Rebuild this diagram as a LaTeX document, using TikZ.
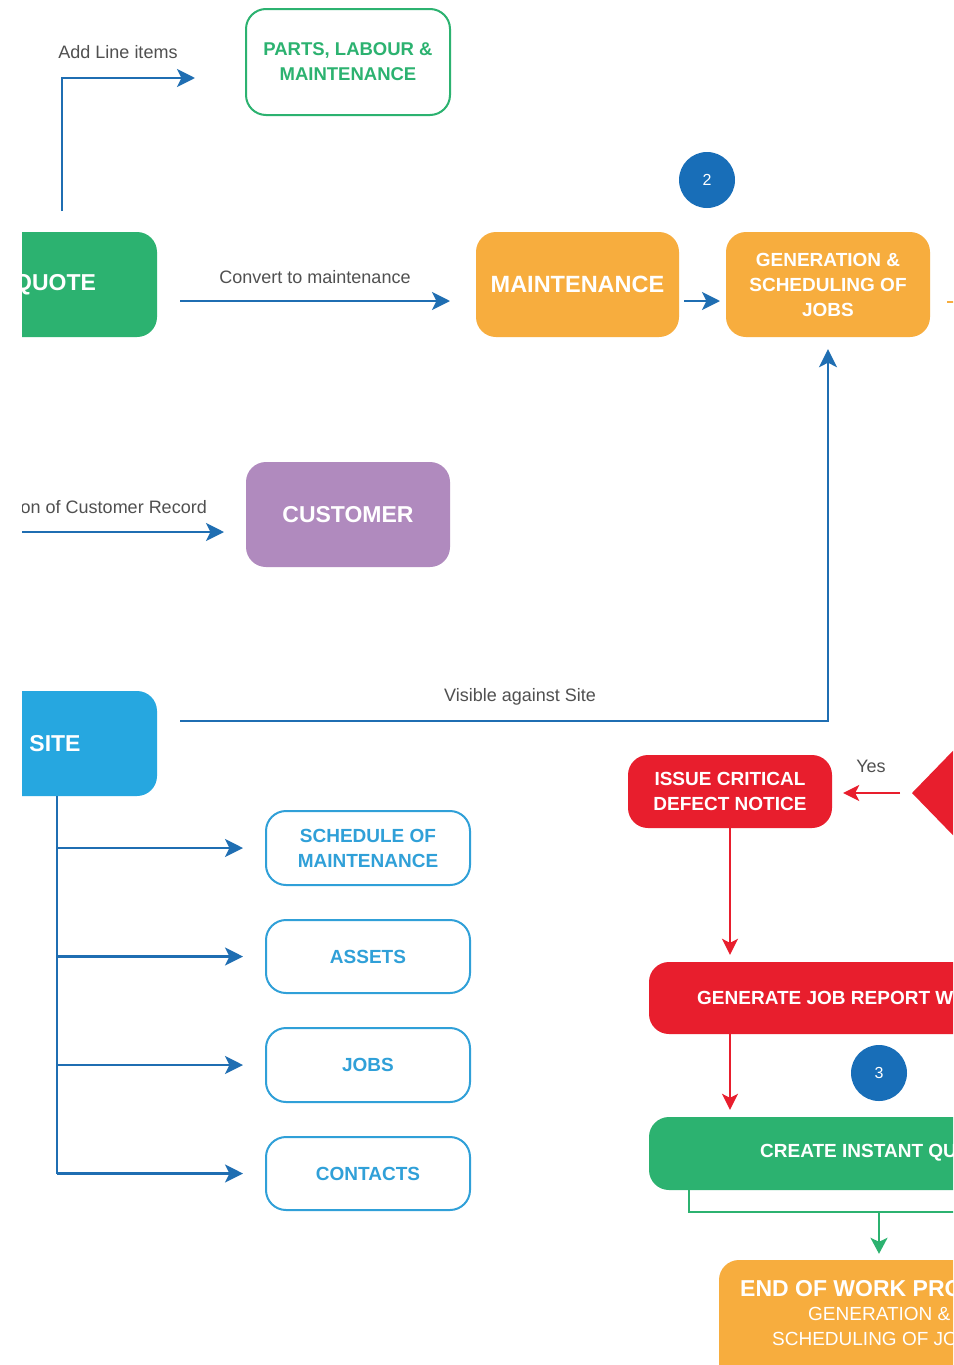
\documentclass[tikz,border=0pt]{standalone}
\usepackage{fontspec}
\setmainfont{Liberation Sans}
\usetikzlibrary{arrows.meta}
\definecolor{cgreen}{RGB}{44,178,112}
\definecolor{corange}{RGB}{247,173,62}
\definecolor{cblue}{RGB}{31,110,178}
\definecolor{cnum}{RGB}{24,110,184}
\definecolor{cpurple}{RGB}{176,138,190}
\definecolor{csite}{RGB}{38,167,224}
\definecolor{cobox}{RGB}{48,160,216}
\definecolor{cred}{RGB}{232,30,45}
\definecolor{cgray}{RGB}{80,80,80}
\begin{document}
\begin{tikzpicture}[x=1pt,y=-1pt,
  fbox/.style={rounded corners=20pt, inner sep=0pt, align=center, text=white,
    font=\bfseries\fontsize{19}{25}\selectfont},
  obox/.style={draw=cobox, line width=2pt, rounded corners=20pt, fill=white,
    inner sep=0pt, align=center, text=cobox, minimum width=204pt,
    font=\bfseries\fontsize{19}{25}\selectfont},
  lbl/.style={text=cgray, font=\fontsize{18}{21}\selectfont, inner sep=0pt},
  arr/.style={draw=cblue, line width=2.4pt, -{Stealth[length=18pt,width=18pt,inset=4.5pt]}},
  ln/.style={draw=cblue, line width=2.4pt},
  rarr/.style={draw=cred, line width=1.9pt, -{Stealth[length=16pt,width=16pt,inset=4pt]}},
  garr/.style={draw=cgreen, line width=2.1pt, -{Stealth[length=16pt,width=17pt,inset=4pt]}},
  num/.style={circle, fill=cnum, minimum size=56pt, inner sep=0pt, text=white,
    font=\fontsize{16}{16}\selectfont},
  btxt/.style={text=white, inner sep=0pt, anchor=west}
]
\useasboundingbox (0,0) rectangle (953,1365);
\fill[white] (0,0) rectangle (953,1365);
\clip (22,0) rectangle (953,1365);

% top row
\node[fbox, fill=cgreen, minimum width=204pt, minimum height=105pt,
  font=\bfseries\fontsize{23}{25}\selectfont] (quote) at (55,284.5) {QUOTE};
\node[obox, draw=cgreen, text=cgreen, minimum height=106pt,
  font=\bfseries\fontsize{18.5}{25}\selectfont] (parts) at (348,62) {PARTS, LABOUR \&\\MAINTENANCE};
\node[fbox, fill=corange, minimum width=203pt, minimum height=105pt,
  font=\bfseries\fontsize{23.5}{25}\selectfont] (maint) at (577.5,284.5) {MAINTENANCE};
\node[fbox, fill=corange, minimum width=204pt, minimum height=105pt] (gen) at (828,284.5)
  {GENERATION \&\\SCHEDULING OF\\JOBS};
\node[num] (n2) at (707,180) {2};

\coordinate (q1) at (62,211);
\coordinate (q2) at (195,78);
\draw[arr] (q1) |- (q2);
\node[lbl] (addl) at (118,52) {Add Line items};

\coordinate (c1) at (180,301);
\coordinate (c2) at (450,301);
\draw[arr] (c1) -- (c2);
\node[lbl] (conv) at (315,277) {Convert to maintenance};

\coordinate (m1) at (684,301);
\coordinate (m2) at (720,301);
\draw[arr] (m1) -- (m2);

\coordinate (o1) at (947,302);
\coordinate (o2) at (960,302);
\draw[draw=corange, line width=2pt] (o1) -- (o2);

% customer
\node[fbox, fill=cpurple, minimum width=204pt, minimum height=105pt,
  font=\bfseries\fontsize{23}{25}\selectfont] (cust) at (348,514.5) {CUSTOMER};
\coordinate (cu1) at (0,532);
\coordinate (cu2) at (224,532);
\draw[arr] (cu1) -- (cu2);
\node[lbl, anchor=east] (custl) at (207,507) {on of Customer Record};

% site
\node[fbox, fill=csite, minimum width=204pt, minimum height=105pt,
  font=\bfseries\fontsize{23}{25}\selectfont] (site) at (55,743.5) {SITE};
\coordinate (v1) at (180,721);
\draw[arr, shorten >=12pt] (v1) -| (gen.south);
\node[lbl] (vis) at (520,697) {Visible against Site};

\node[obox, minimum height=74pt] (sched) at (368,848) {SCHEDULE OF\\MAINTENANCE};
\node[obox, minimum height=73pt] (assets) at (368,956.5) {ASSETS};
\node[obox, minimum height=74pt] (jobs) at (368,1065) {JOBS};
\node[obox, minimum height=73pt] (cont) at (368,1173.5) {CONTACTS};

\coordinate (s0) at (57,796);
\coordinate (s1) at (57,848);
\coordinate (s2) at (57,956.5);
\coordinate (s3) at (57,1065);
\coordinate (s4) at (57,1173.5);
\draw[ln] (s0) -- (s4);
\draw[arr, shorten >=22pt] (s1) -- (sched.west);
\draw[arr, shorten >=22pt] (s2) -- (assets.west);
\draw[arr, shorten >=22pt] (s3) -- (jobs.west);
\draw[arr, shorten >=22pt] (s4) -- (cont.west);

% red branch
\node[fbox, fill=cred, minimum width=204pt, minimum height=73pt] (issue) at (730,791.5)
  {ISSUE CRITICAL\\DEFECT NOTICE};
\fill[cred] (912,793) -- (1012,690) -- (1112,793) -- (1012,896) -- cycle;
\coordinate (dia) at (900,793);
\draw[rarr, shorten >=11pt] (dia) -- (issue.east |- dia);
\node[lbl] (yes) at (871,766) {Yes};

\node[fbox, fill=cred, minimum width=466pt, minimum height=72pt] (genrep) at (882,998) {};
\node[btxt, font=\bfseries\fontsize{19}{25}\selectfont] (genreptxt) at (697,998) {GENERATE JOB REPORT W};
\draw[rarr, shorten >=7pt] (issue.south) -- (issue.south |- genrep.north);

\node[num] (n3) at (879,1073) {3};

\node[fbox, fill=cgreen, minimum width=466pt, minimum height=73pt] (quick) at (882,1153.5) {};
\node[btxt, font=\bfseries\fontsize{19}{25}\selectfont] (quicktxt) at (760,1153) {CREATE INSTANT QU};
\draw[rarr, shorten >=7pt] (issue.south |- genrep.south) -- (issue.south |- quick.north);

\node[fbox, fill=corange, minimum width=326pt, minimum height=150pt] (endw) at (882,1335) {};
\node[btxt, font=\bfseries\fontsize{23}{25}\selectfont] (endt1) at (740,1289) {END OF WORK PRO};
\node[btxt, font=\fontsize{19}{25}\selectfont] (endt2) at (808,1314) {GENERATION \&};
\node[btxt, font=\fontsize{19}{25}\selectfont] (endt3) at (772,1339) {SCHEDULING OF JO};

\coordinate (g1) at (689,1190);
\coordinate (g2) at (960,1212);
\coordinate (g3) at (879,1212);
\draw[draw=cgreen, line width=2pt] (g1) |- (g2);
\draw[garr, shorten >=6pt] (g3) -- (g3 |- endw.north);
\end{tikzpicture}
\end{document}
